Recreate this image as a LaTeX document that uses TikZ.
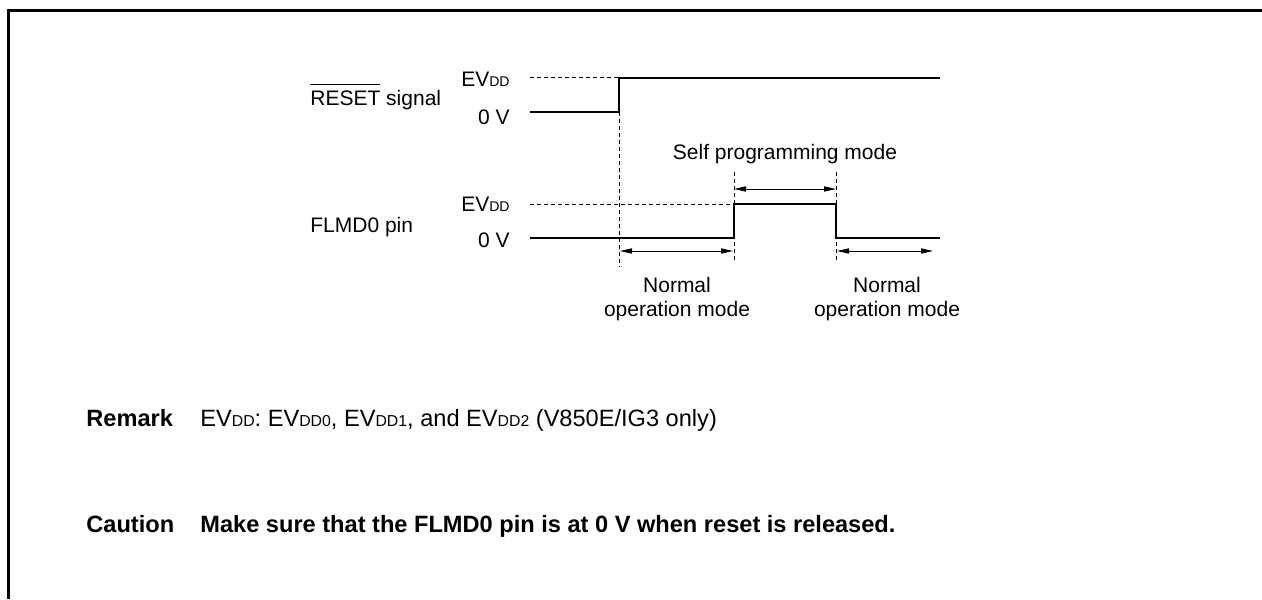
\documentclass[tikz,border=0pt]{standalone}
\usepackage{fontspec}
\setmainfont{Liberation Sans}
\usetikzlibrary{arrows.meta}

\makeatletter
\newcommand{\evdd}[1]{EV{\fontsize{\fpeval{0.67*\f@size}}{\f@baselineskip}\selectfont DD#1}}
\makeatother
\newcommand{\ovbar}[1]{\setbox0\hbox{#1}\rlap{\rule[0.97em]{\wd0}{0.5pt}}\box0\relax}

\begin{document}
\begin{tikzpicture}[
  x=0.5pt, y=-0.5pt,
  font=\fontsize{10.5}{12}\selectfont,
  >={Triangle[length=6pt,width=2.6pt]},
  sig/.style={line width=1.3pt, line join=miter},
  guide/.style={line width=0.5pt, dash pattern=on 2pt off 1.5pt},
  dim/.style={<->, line width=0.5pt},
  lvl/.style={anchor=base east, inner sep=0pt},
  lbl/.style={anchor=base west, inner sep=0pt},
  note/.style={lbl, font=\fontsize{11.8}{14}\selectfont},
  mode/.style={align=center, inner sep=0pt, anchor=north},
]
\useasboundingbox (0,0) rectangle (1262,599);

%% ---------- frame ----------
\coordinate (fbl) at (8,599);
\coordinate (ftl) at (8,11);
\coordinate (ftr) at (1262,11);
\draw[line width=1.5pt] (fbl) -- (ftl) -- (ftr);

%% ---------- RESET signal ----------
\node[lbl] (rstname) at (310,105) {\ovbar{RESET} signal};
\node[lvl] (rsthi) at (510,87) {\evdd{}};
\node[lvl] (rstlo) at (510,125) {0 V};

\coordinate (rh) at (530,78);
\coordinate (r0) at (530,112);
\coordinate (r1) at (619,112);
\coordinate (r2) at (619,78);
\coordinate (r3) at (940,78);
\draw[sig] (r0) -- (r1) -- (r2) -- (r3);
\draw[guide] (rh) -- (r2);

%% ---------- FLMD0 pin ----------
\node[lbl] (flmname) at (310,232) {FLMD0 pin};
\node[lvl] (flmhi) at (510,211) {\evdd{}};
\node[lvl] (flmlo) at (510,247) {0 V};

\coordinate (fh) at (530,204);
\coordinate (f0) at (530,238);
\coordinate (f1) at (734,238);
\coordinate (f2) at (734,204);
\coordinate (f3) at (836,204);
\coordinate (f4) at (836,238);
\coordinate (f5) at (940,238);
\draw[sig] (f0) -- (f1) -- (f2) -- (f3) -- (f4) -- (f5);
\draw[guide] (fh) -- (f2);

%% ---------- timing guides ----------
\coordinate (g1) at (619,267);
\coordinate (g2t) at (734,172);
\coordinate (g2b) at (734,262);
\coordinate (g3t) at (836,172);
\coordinate (g3b) at (836,262);
\draw[guide] (r1) -- (g1);
\draw[guide] (g2t) -- (g2b);
\draw[guide] (g3t) -- (g3b);

%% ---------- mode spans ----------
\coordinate (s0) at (734,189);
\coordinate (s1) at (836,189);
\draw[dim] (s0) -- (s1);
\node[anchor=base, inner sep=0pt] (selfmode) at (785,159) {Self programming mode};

\coordinate (n0) at (620,251);
\coordinate (n1) at (733,251);
\coordinate (n2) at (837,251);
\coordinate (n3) at (933,251);
\draw[dim] (n0) -- (n1);
\draw[dim] (n2) -- (n3);
\node[mode] (normal1) at (677,277) {Normal\\operation mode};
\node[mode] (normal2) at (887,277) {Normal\\operation mode};

%% ---------- notes ----------
\node[note] (remk) at (86,426) {\textbf{Remark}};
\node[note] (remtxt) at (200,426) {\evdd{}: \evdd{0}, \evdd{1}, and \evdd{2} (V850E/IG3 only)};
\node[note] (caut) at (86,532) {\textbf{Caution}};
\node[note] (cauttxt) at (200,532) {\textbf{Make sure that the FLMD0 pin is at 0 V when reset is released.}};

\end{tikzpicture}
\end{document}
